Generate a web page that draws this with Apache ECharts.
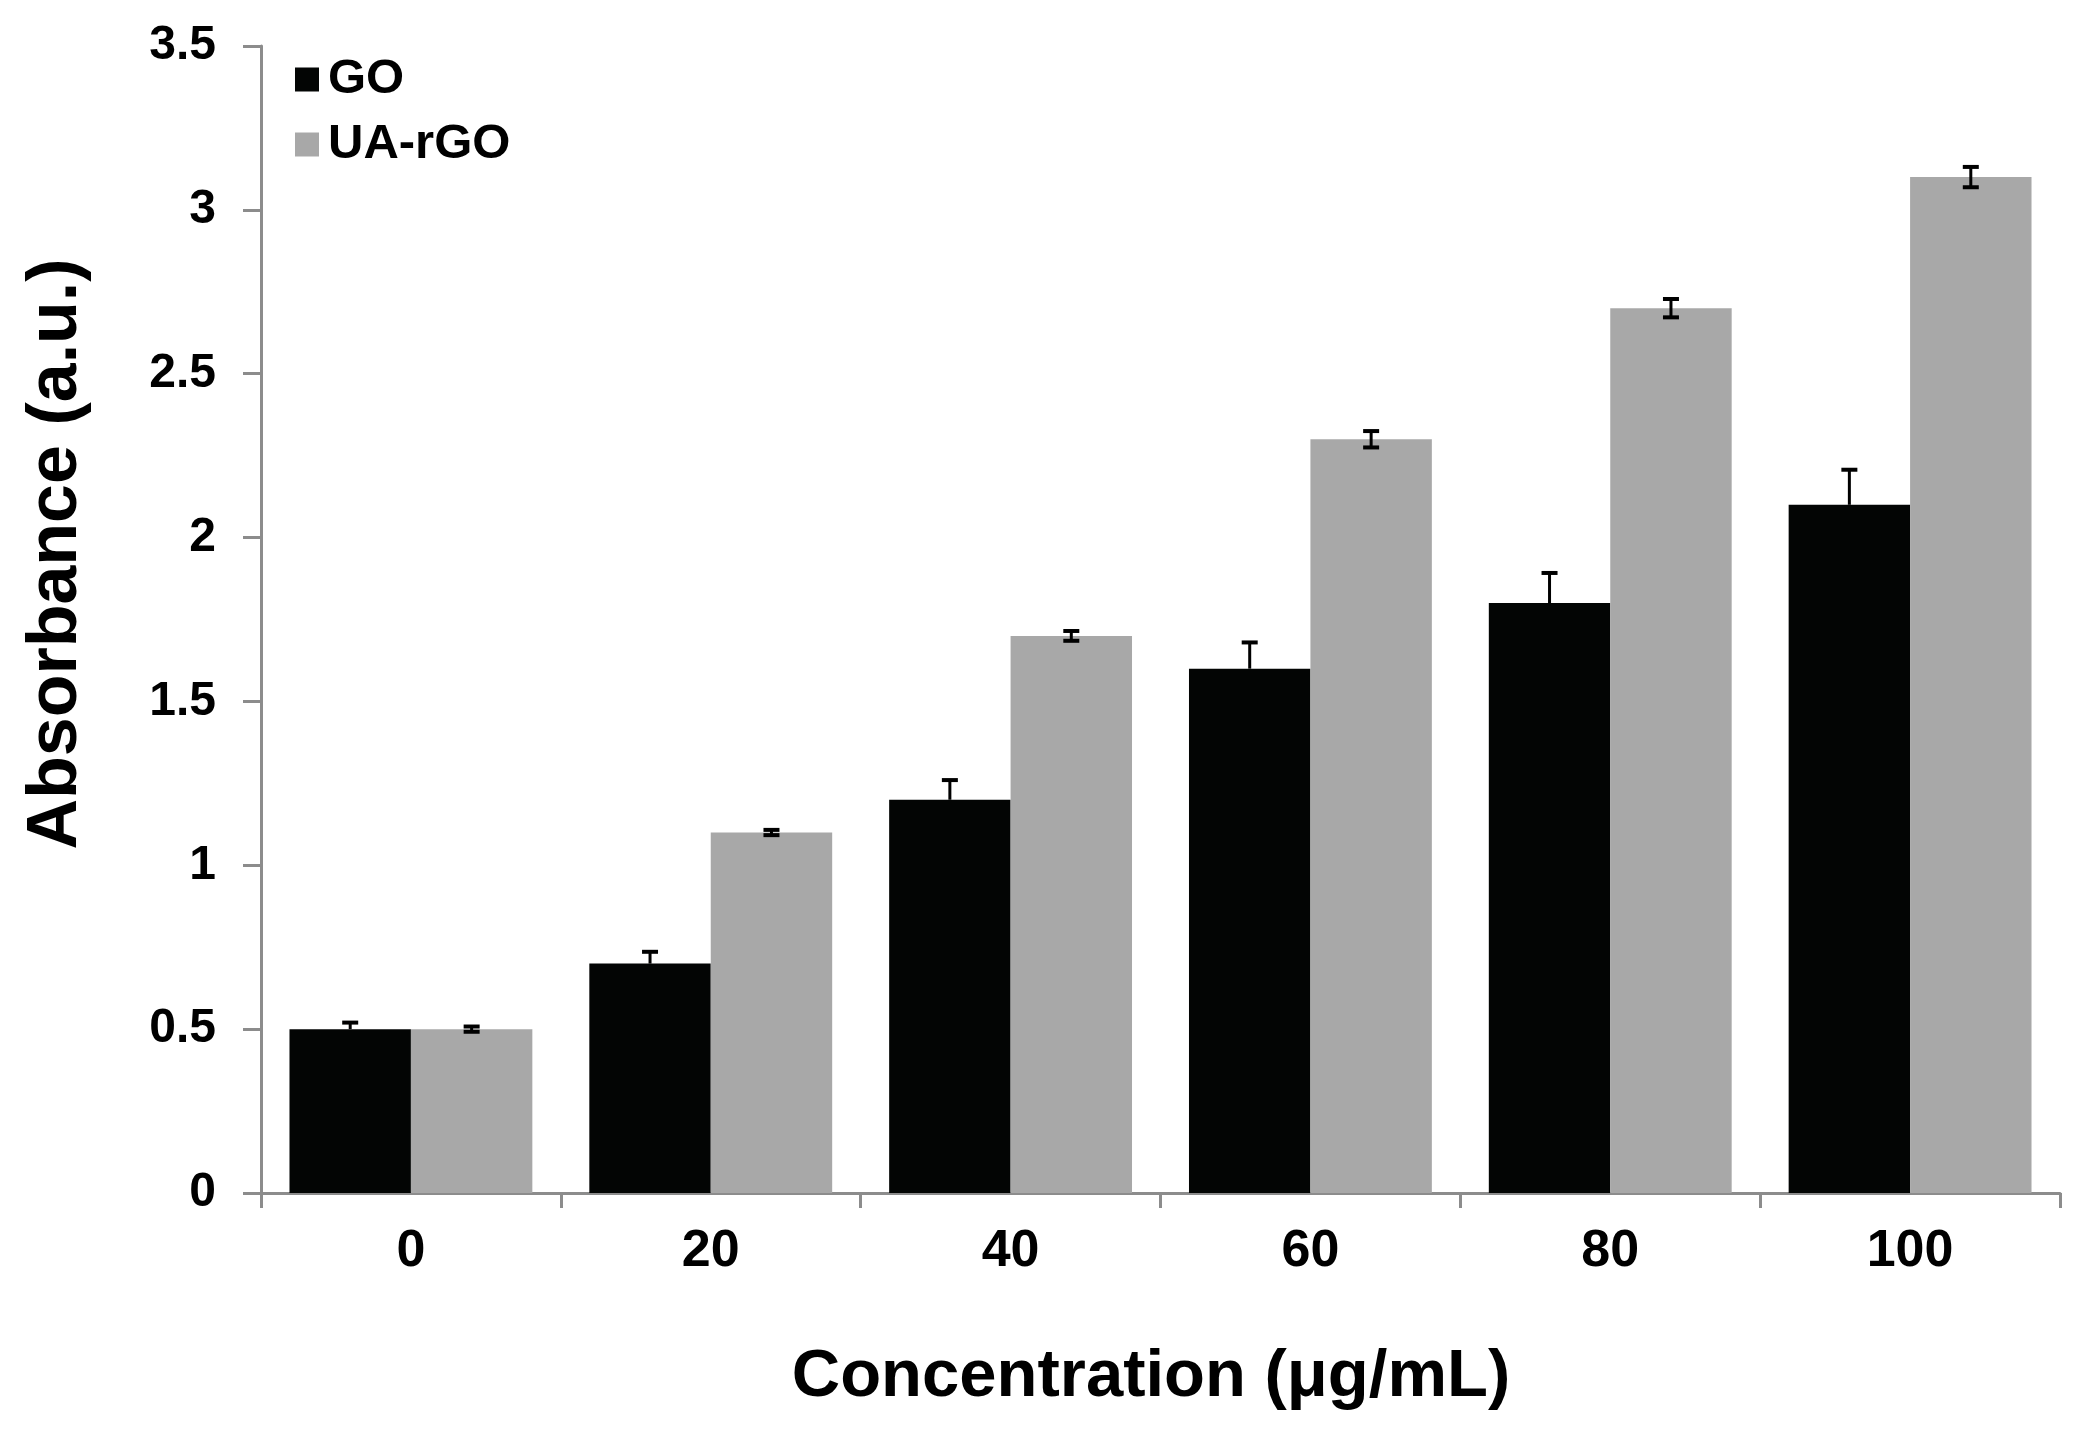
<!DOCTYPE html>
<html>
<head>
<meta charset="utf-8">
<script src="https://cdn.jsdelivr.net/npm/echarts@6/dist/echarts.min.js"></script>
<style>
html,body{margin:0;padding:0;background:#fff;}
#chart{width:2081px;height:1444px;}
</style>
</head>
<body>
<div id="chart"></div>
<script>
const categories = ['0', '20', '40', '60', '80', '100'];
const goValues = [0.5, 0.7, 1.2, 1.6, 1.8, 2.1];
const goErrors = [0.02, 0.036, 0.06, 0.08, 0.092, 0.107];
const uaValues = [0.5, 1.1, 1.7, 2.3, 2.7, 3.1];
const uaErrors = [0.008, 0.008, 0.015, 0.025, 0.028, 0.031];
const seriesNames = ['GO', 'UA-rGO'];
const xTitle = 'Concentration (μg/mL)';
const yTitle = 'Absorbance (a.u.)';

const FONT = "'Liberation Sans', Arial, Helvetica, sans-serif";
const AXIS_COLOR = '#8c8c8c';

function errData(values, errors, upOnly) {
  return values.map((v, i) => [i, upOnly ? v : v - errors[i], v + errors[i]]);
}

function makeErrRender(side, upOnly) {
  return function (params, api) {
    const i = api.value(0);
    const lo = api.coord([i, api.value(1)]);
    const hi = api.coord([i, api.value(2)]);
    const band = api.size([1, 0])[0];
    const x = lo[0] + side * band * 0.2025;
    const cap = 8;
    const children = [
      { type: 'line', shape: { x1: x, y1: lo[1], x2: x, y2: hi[1] }, style: { stroke: '#000', lineWidth: 3 } },
      { type: 'line', shape: { x1: x - cap, y1: hi[1], x2: x + cap, y2: hi[1] }, style: { stroke: '#000', lineWidth: 4 } }
    ];
    if (!upOnly) {
      children.push({ type: 'line', shape: { x1: x - cap, y1: lo[1], x2: x + cap, y2: lo[1] }, style: { stroke: '#000', lineWidth: 4 } });
    }
    return { type: 'group', children: children };
  };
}

const chart = echarts.init(document.getElementById('chart'));
chart.setOption({
  backgroundColor: '#ffffff',
  animation: false,
  grid: { left: 261, right: 21, top: 46, bottom: 251, containLabel: false },
  legend: {
    orient: 'vertical',
    left: 295,
    top: 55,
    padding: 0,
    itemWidth: 24,
    itemHeight: 24,
    itemGap: 16,
    icon: 'rect',
    data: seriesNames,
    textStyle: { fontFamily: FONT, fontWeight: 'bold', fontSize: 49, color: '#000', padding: [0, 0, 0, 4] }
  },
  xAxis: {
    type: 'category',
    data: categories,
    boundaryGap: true,
    axisLine: { lineStyle: { color: AXIS_COLOR, width: 3 } },
    axisTick: { show: true, length: 15, lineStyle: { color: AXIS_COLOR, width: 3 } },
    axisLabel: { margin: 33, fontFamily: FONT, fontWeight: 'bold', fontSize: 52, color: '#000' },
    splitLine: { show: false }
  },
  yAxis: {
    type: 'value',
    min: 0,
    max: 3.5,
    interval: 0.5,
    axisLine: { show: true, lineStyle: { color: AXIS_COLOR, width: 3 } },
    axisTick: { show: true, length: 18, lineStyle: { color: AXIS_COLOR, width: 3 } },
    axisLabel: { margin: 45, fontFamily: FONT, fontWeight: 'bold', fontSize: 48, color: '#000' },
    splitLine: { show: false }
  },
  graphic: [
    {
      type: 'text',
      rotation: Math.PI / 2,
      x: 57,
      y: 554,
      style: {
        text: yTitle,
        font: 'bold 70px ' + FONT,
        fill: '#000',
        textAlign: 'center',
        textVerticalAlign: 'middle'
      }
    },
    {
      type: 'text',
      x: 1151,
      y: 1378,
      style: {
        text: xTitle,
        font: 'bold 67px ' + FONT,
        fill: '#000',
        textAlign: 'center',
        textVerticalAlign: 'middle'
      }
    }
  ],
  series: [
    {
      name: seriesNames[0],
      type: 'bar',
      data: goValues,
      barGap: '0%',
      barCategoryGap: '19%',
      itemStyle: { color: '#030504' }
    },
    {
      name: seriesNames[1],
      type: 'bar',
      data: uaValues,
      barGap: '0%',
      barCategoryGap: '19%',
      itemStyle: { color: '#a8a8a8' }
    },
    {
      type: 'custom',
      renderItem: makeErrRender(-1, true),
      data: errData(goValues, goErrors, true),
      encode: { x: 0, y: [1, 2] },
      z: 10,
      silent: true
    },
    {
      type: 'custom',
      renderItem: makeErrRender(1, false),
      data: errData(uaValues, uaErrors, false),
      encode: { x: 0, y: [1, 2] },
      z: 10,
      silent: true
    }
  ]
});
</script>
</body>
</html>
